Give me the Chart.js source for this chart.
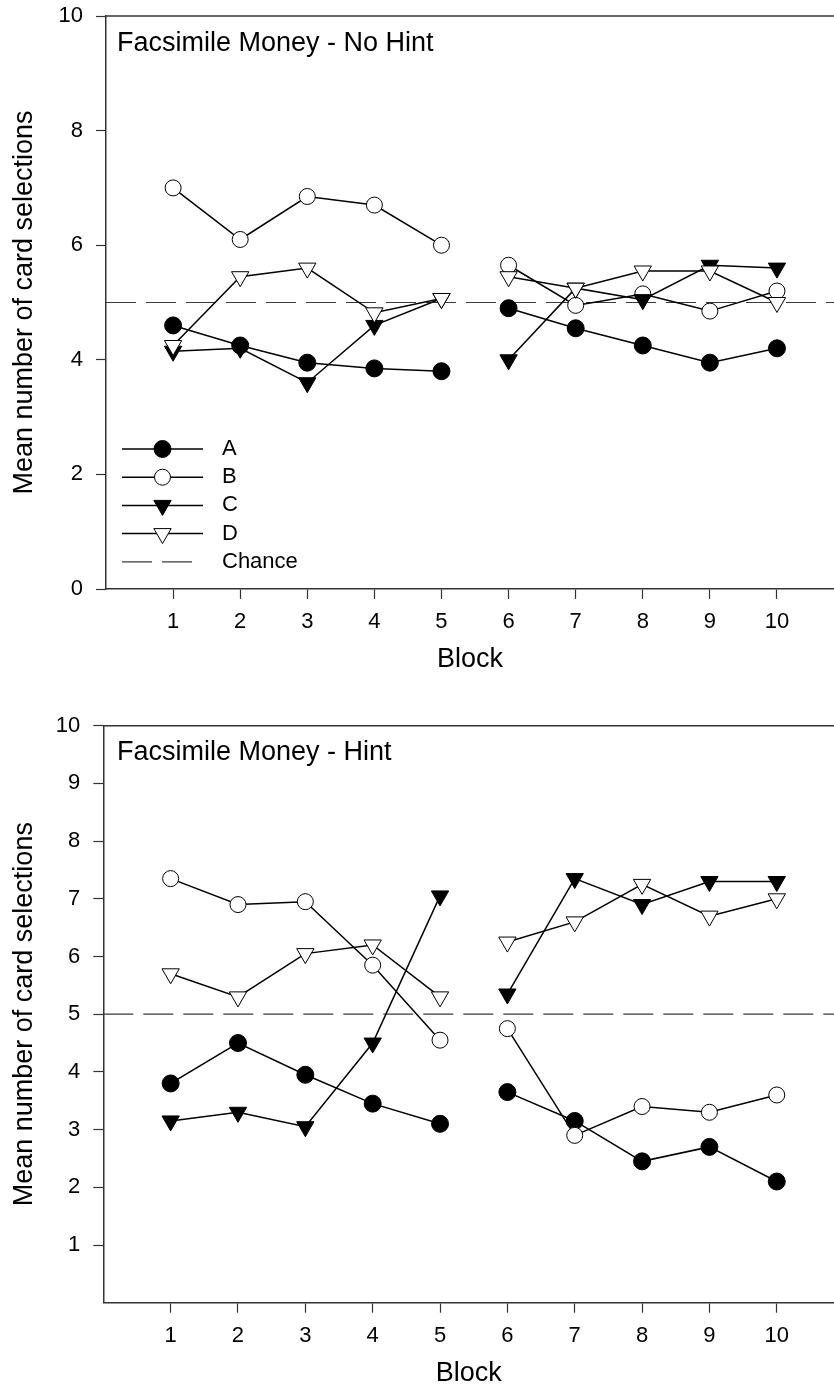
<!DOCTYPE html>
<html>
<head>
<meta charset="utf-8">
<script src="https://cdn.jsdelivr.net/npm/chart.js@4/dist/chart.umd.min.js"></script>
<style>
  html, body { margin: 0; padding: 0; background: #fff; overflow: hidden; }
  .panel { position: absolute; left: 0; width: 834px; height: 700px; }
  #panel1 { top: 0; }
  #panel2 { top: 700px; }
</style>
</head>
<body>
<div class="panel" id="panel1"><canvas id="noHint" width="834" height="700"></canvas></div>
<div class="panel" id="panel2"><canvas id="hint" width="834" height="700"></canvas></div>
<script>
// Blocks of trials (x axis) and the four card decks
const blocks = [1, 2, 3, 4, 5, 6, 7, 8, 9, 10];
const deckNames = ['A', 'B', 'C', 'D'];
const sessionBreakAfter = 5;      // lines are not joined between block 5 and block 6
const chanceLevel = 5;
const chanceLabel = 'Chance';

// Facsimile money, no hint: mean card selections per block
const noHintA = [4.6, 4.25, 3.95, 3.85, 3.8, 4.9, 4.55, 4.25, 3.95, 4.2];
const noHintB = [7.0, 6.1, 6.85, 6.7, 6.0, 5.65, 4.95, 5.15, 4.85, 5.2];
const noHintC = [4.15, 4.2, 3.6, 4.6, 5.07, 4.0, 5.25, 5.05, 5.65, 5.6];
const noHintD = [4.25, 5.45, 5.6, 4.82, 5.07, 5.45, 5.25, 5.55, 5.55, 5.0];

// Facsimile money, hint: mean card selections per block
const hintA = [3.8, 4.5, 3.95, 3.45, 3.1, 3.65, 3.15, 2.45, 2.7, 2.1];
const hintB = [7.35, 6.9, 6.95, 5.85, 4.55, 4.75, 2.9, 3.4, 3.3, 3.6];
const hintC = [3.15, 3.3, 3.05, 4.5, 7.05, 5.35, 7.35, 6.9, 7.3, 7.3];
const hintD = [5.7, 5.3, 6.05, 6.2, 5.3, 6.25, 6.6, 7.25, 6.7, 7.0];

// Axis ticks
const yTicksNoHint = [0, 2, 4, 6, 8, 10];
const yTicksHint = [1, 2, 3, 4, 5, 6, 7, 8, 9, 10];
const xTickLabels = blocks.map(String);

const X_MAX = 10.85;
const FONT = '"Liberation Sans", Arial, Helvetica, sans-serif';
const AXIS_COLOR = '#333';

// Marker look for each deck
const deckStyles = {
  A: { pointStyle: 'circle', rotation: 0, radius: 8.5, fill: '#000' },
  B: { pointStyle: 'circle', rotation: 0, radius: 8, fill: '#fff' },
  C: { pointStyle: 'triangle', rotation: 180, radius: 10, fill: '#000' },
  D: { pointStyle: 'triangle', rotation: 180, radius: 10, fill: '#fff' }
};

function deckDataset(name, values, order) {
  const st = deckStyles[name];
  return {
    label: name,
    data: blocks.map((b, i) => ({ x: b, y: values[i] })),
    borderColor: '#000',
    borderWidth: 1.5,
    tension: 0,
    fill: false,
    pointStyle: st.pointStyle,
    pointRotation: st.rotation,
    pointRadius: st.radius,
    pointBackgroundColor: st.fill,
    pointBorderColor: '#000',
    pointBorderWidth: 1,
    order: order,
    segment: {
      borderColor: ctx => (ctx.p0.parsed.x === sessionBreakAfter ? 'rgba(0,0,0,0)' : '#000')
    },
    deckStyle: st
  };
}

function chanceDataset() {
  return {
    label: chanceLabel,
    data: [{ x: 0, y: chanceLevel }, { x: X_MAX, y: chanceLevel }],
    borderColor: '#3a3a3a',
    borderWidth: 1.2,
    borderDash: [30, 10],
    pointRadius: 0,
    fill: false,
    order: 10
  };
}

// Panel heading, top frame line and (optionally) the key
const panelDecor = {
  id: 'panelDecor',
  afterDraw(chart, args, opts) {
    const { ctx, chartArea: a } = chart;
    ctx.save();
    ctx.strokeStyle = AXIS_COLOR;
    ctx.lineWidth = 1.5;
    ctx.beginPath();
    ctx.moveTo(a.left, a.top);
    ctx.lineTo(a.right, a.top);
    ctx.stroke();

    ctx.fillStyle = '#000';
    ctx.font = '27px ' + FONT;
    ctx.textAlign = 'left';
    ctx.textBaseline = 'alphabetic';
    ctx.fillText(opts.text, opts.x, opts.baseline);

    if (opts.legend) {
      const L = opts.legend;
      ctx.font = '22px ' + FONT;
      ctx.textBaseline = 'middle';
      const items = chart.data.datasets.filter(d => d.deckStyle);
      items.forEach((ds, i) => {
        const y = L.y + i * L.step;
        ctx.setLineDash([]);
        ctx.strokeStyle = '#000';
        ctx.lineWidth = 1.5;
        ctx.beginPath();
        ctx.moveTo(L.x0, y);
        ctx.lineTo(L.x1, y);
        ctx.stroke();
        const st = ds.deckStyle;
        ctx.fillStyle = st.fill;
        ctx.strokeStyle = '#000';
        ctx.lineWidth = 1;
        Chart.helpers.drawPoint(ctx, {
          pointStyle: st.pointStyle, rotation: st.rotation, radius: st.radius, borderWidth: 1
        }, (L.x0 + L.x1) / 2, y);
        ctx.fillStyle = '#000';
        ctx.fillText(ds.label, L.textX, y);
      });
      const chance = chart.data.datasets.find(d => d.label === chanceLabel);
      const yc = L.y + items.length * L.step;
      ctx.strokeStyle = chance.borderColor;
      ctx.lineWidth = chance.borderWidth;
      ctx.setLineDash(chance.borderDash);
      ctx.beginPath();
      ctx.moveTo(L.x0, yc);
      ctx.lineTo(L.x0 + 70, yc);
      ctx.stroke();
      ctx.setLineDash([]);
      ctx.fillStyle = '#000';
      ctx.fillText(chance.label, L.textX, yc);
    }
    ctx.restore();
  }
};

function noEdgePadding(s) {
  s.paddingTop = 0;
  s.paddingBottom = 0;
  s.paddingLeft = 0;
  s.paddingRight = 0;
}

function makePanel(canvasId, heading, series, yTicks, geo, legend) {
  const canvas = document.getElementById(canvasId);
  const H = canvas.height;
  const datasets = [
    deckDataset('A', series[0], 4),
    deckDataset('B', series[1], 3),
    deckDataset('C', series[2], 2),
    deckDataset('D', series[3], 1),
    chanceDataset()
  ];
  const gridOpts = {
    display: true,
    drawOnChartArea: false,
    drawTicks: true,
    tickLength: 10,
    tickColor: AXIS_COLOR,
    tickWidth: 1.2
  };
  const borderOpts = { display: true, color: AXIS_COLOR, width: 1.5 };
  return new Chart(canvas, {
    type: 'line',
    data: { datasets },
    plugins: [panelDecor],
    options: {
      responsive: false,
      animation: false,
      events: [],
      layout: { padding: { top: geo.top, left: 0, right: 0, bottom: 0 }, autoPadding: false },
      plugins: {
        legend: { display: false },
        tooltip: { enabled: false },
        title: { display: false },
        panelDecor: { text: heading, x: geo.headX, baseline: geo.headBaseline, legend: legend }
      },
      scales: {
        x: {
          type: 'linear',
          min: 0,
          max: X_MAX,
          afterBuildTicks: s => { s.ticks = blocks.map(v => ({ value: v })); },
          afterFit: s => { s.height = H - geo.bottom; noEdgePadding(s); },
          ticks: {
            color: '#000',
            font: { family: FONT, size: 22 },
            padding: 10,
            maxRotation: 0,
            autoSkip: false,
            callback: (v, i) => xTickLabels[i]
          },
          grid: gridOpts,
          border: borderOpts,
          title: {
            display: true,
            text: 'Block',
            color: '#000',
            font: { family: FONT, size: 27 },
            padding: { top: 0, bottom: geo.xTitlePad }
          }
        },
        y: {
          type: 'linear',
          min: 0,
          max: 10,
          afterBuildTicks: s => { s.ticks = yTicks.map(v => ({ value: v })); },
          afterFit: s => { s.width = geo.left; noEdgePadding(s); },
          ticks: {
            color: '#000',
            font: { family: FONT, size: 22 },
            padding: 13,
            autoSkip: false,
            callback: v => String(v)
          },
          grid: gridOpts,
          border: borderOpts,
          title: {
            display: true,
            text: 'Mean number of card selections',
            color: '#000',
            font: { family: FONT, size: 27 },
            padding: { top: 8, bottom: 0 }
          }
        }
      }
    }
  });
}

makePanel('noHint', 'Facsimile Money - No Hint',
  [noHintA, noHintB, noHintC, noHintD], yTicksNoHint,
  { top: 16, bottom: 589, left: 106, headX: 117, headBaseline: 51, xTitlePad: 24 },
  { x0: 122, x1: 203, textX: 222, y: 449, step: 28.2 });

makePanel('hint', 'Facsimile Money - Hint',
  [hintA, hintB, hintC, hintD], yTicksHint,
  { top: 25.7, bottom: 602.7, left: 103.3, headX: 117, headBaseline: 60, xTitlePad: 10 },
  null);
</script>
</body>
</html>
